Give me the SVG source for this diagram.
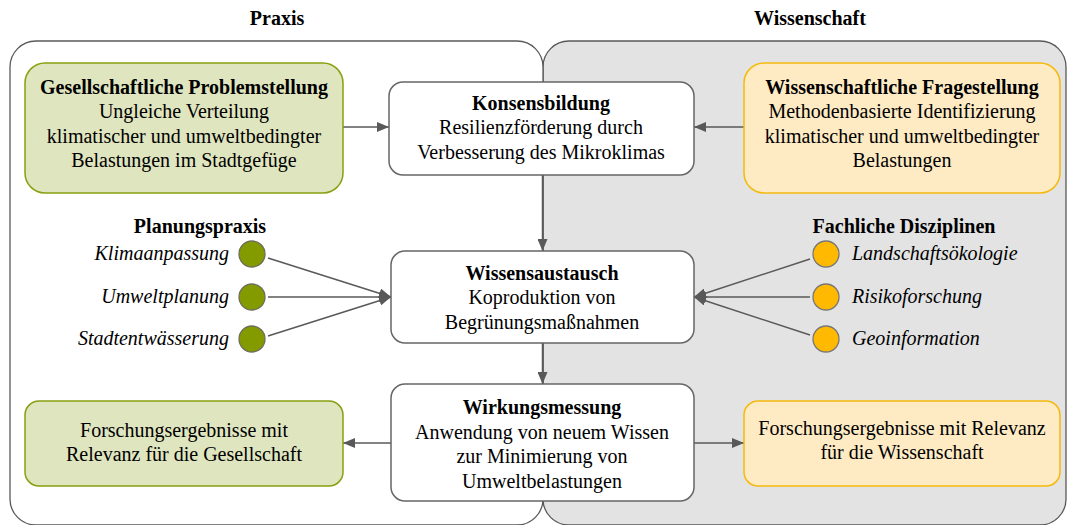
<svg xmlns="http://www.w3.org/2000/svg" width="1067" height="525" viewBox="0 0 1067 525">
<style>
text{font-family:"Liberation Serif","Times New Roman",serif;font-size:20px;fill:#000}
.b{font-weight:bold}
.i{font-style:italic}
.m{text-anchor:middle}
.e{text-anchor:end}
.box{fill:#fff;stroke:#666;stroke-width:1.5}
.g{fill:#dfe5bf;stroke:#8a9e10;stroke-width:1.5}
.y{fill:#feebc4;stroke:#f5b90c;stroke-width:1.5}
.cg{fill:#849b00;stroke:#6e6e5a;stroke-width:1.3}
.cy{fill:#ffb900;stroke:#777;stroke-width:1.3}
.c{stroke:#595959;stroke-width:1.5;fill:none}
</style>
<defs>
<marker id="ah" viewBox="0 0 12 10" refX="12" refY="5" markerWidth="12" markerHeight="10" markerUnits="userSpaceOnUse" orient="auto">
<path d="M0,0 L12,5 L0,10 z" fill="#595959"/>
</marker>
</defs>
<g id="containers">
<rect x="543" y="41" width="523" height="484" rx="26" fill="#e3e3e3" stroke="#595959" stroke-width="1.3"/>
<rect x="10" y="41" width="533" height="484" rx="26" fill="#fff" stroke="#595959" stroke-width="1.3"/>
<text class="b m" x="277" y="25">Praxis</text>
<text class="b m" x="810" y="25">Wissenschaft</text>
</g>
<g id="connectors">
<line class="c" x1="343" y1="127" x2="389" y2="127" marker-end="url(#ah)"/>
<line class="c" x1="744" y1="127" x2="694" y2="127" marker-end="url(#ah)"/>
<line class="c" x1="542.5" y1="175" x2="542.5" y2="251" marker-end="url(#ah)"/>
<line class="c" x1="542.5" y1="343" x2="542.5" y2="384" marker-end="url(#ah)"/>
<line class="c" x1="391" y1="443" x2="343" y2="443" marker-end="url(#ah)"/>
<line class="c" x1="694" y1="443" x2="744" y2="443" marker-end="url(#ah)"/>
<line class="c" x1="268" y1="258" x2="391" y2="297" marker-end="url(#ah)"/>
<line class="c" x1="268" y1="297" x2="391" y2="297" marker-end="url(#ah)"/>
<line class="c" x1="268" y1="336" x2="391" y2="297" marker-end="url(#ah)"/>
<line class="c" x1="810" y1="259" x2="694" y2="297" marker-end="url(#ah)"/>
<line class="c" x1="810" y1="297" x2="694" y2="297" marker-end="url(#ah)"/>
<line class="c" x1="810" y1="335" x2="694" y2="297" marker-end="url(#ah)"/>
</g>
<g id="problem">
<rect class="g" x="25" y="63" width="318" height="130" rx="20"/>
<text class="m" x="184" y="94"><tspan class="b">Gesellschaftliche Problemstellung</tspan><tspan x="184" dy="24.3">Ungleiche Verteilung</tspan><tspan x="184" dy="24.3">klimatischer und umweltbedingter</tspan><tspan x="184" dy="24.3">Belastungen im Stadtgefüge</tspan></text>
</g>
<g id="konsens">
<rect class="box" x="389" y="82" width="305" height="93" rx="14"/>
<text class="m" x="541" y="110"><tspan class="b">Konsensbildung</tspan><tspan x="541" dy="24.3">Resilienzförderung durch</tspan><tspan x="541" dy="24.3">Verbesserung des Mikroklimas</tspan></text>
</g>
<g id="frage">
<rect class="y" x="744" y="63" width="316" height="130" rx="20"/>
<text class="m" x="902" y="94"><tspan class="b">Wissenschaftliche Fragestellung</tspan><tspan x="902" dy="24.3">Methodenbasierte Identifizierung</tspan><tspan x="902" dy="24.3">klimatischer und umweltbedingter</tspan><tspan x="902" dy="24.3">Belastungen</tspan></text>
</g>
<g id="austausch">
<rect class="box" x="391" y="251" width="303" height="92" rx="14"/>
<text class="m" x="542" y="280"><tspan class="b">Wissensaustausch</tspan><tspan x="542" dy="24.3">Koproduktion von</tspan><tspan x="542" dy="24.3">Begrünungsmaßnahmen</tspan></text>
</g>
<g id="wirkung">
<rect class="box" x="391" y="384" width="303" height="117" rx="14"/>
<text class="m" x="542" y="414"><tspan class="b">Wirkungsmessung</tspan><tspan x="542" dy="25">Anwendung von neuem Wissen</tspan><tspan x="542" dy="24.3">zur Minimierung von</tspan><tspan x="542" dy="24.3">Umweltbelastungen</tspan></text>
</g>
<g id="ergebnis-gesellschaft">
<rect class="g" x="25" y="401" width="318" height="85" rx="14"/>
<text class="m" x="184" y="437"><tspan>Forschungsergebnisse mit</tspan><tspan x="184" dy="24.3">Relevanz für die Gesellschaft</tspan></text>
</g>
<g id="ergebnis-wissenschaft">
<rect class="y" x="744" y="401" width="316" height="85" rx="14"/>
<text class="m" x="902" y="435"><tspan>Forschungsergebnisse mit Relevanz</tspan><tspan x="902" dy="24.3">für die Wissenschaft</tspan></text>
</g>
<g id="planungspraxis">
<text class="b m" x="200" y="233">Planungspraxis</text>
</g>
<g id="klimaanpassung"><circle class="cg" cx="252" cy="254" r="13"/><text class="i e" x="229" y="260">Klimaanpassung</text></g>
<g id="umweltplanung"><circle class="cg" cx="252" cy="297" r="13"/><text class="i e" x="229" y="303">Umweltplanung</text></g>
<g id="stadtentwaesserung"><circle class="cg" cx="252" cy="339" r="13"/><text class="i e" x="229" y="345">Stadtentwässerung</text></g>
<g id="disziplinen">
<text class="b m" x="904" y="233">Fachliche Disziplinen</text>
</g>
<g id="landschaftsoekologie"><circle class="cy" cx="826" cy="254" r="13"/><text class="i" x="852" y="260">Landschaftsökologie</text></g>
<g id="risikoforschung"><circle class="cy" cx="826" cy="297" r="13"/><text class="i" x="852" y="303">Risikoforschung</text></g>
<g id="geoinformation"><circle class="cy" cx="826" cy="339" r="13"/><text class="i" x="852" y="345">Geoinformation</text></g>
</svg>
